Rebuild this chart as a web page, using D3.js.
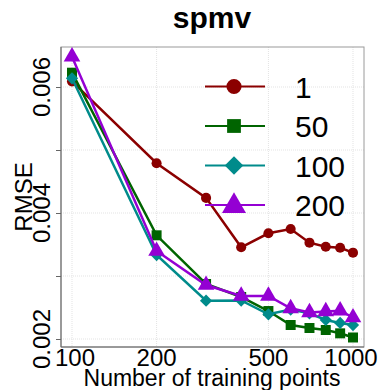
<!DOCTYPE html>
<html>
<head>
<meta charset="utf-8">
<script src="https://cdn.jsdelivr.net/npm/d3@7"></script>
<style>
  body { margin: 0; background: #fff; }
  text { font-family: "Liberation Sans", Arial, sans-serif; }
</style>
</head>
<body>
<div id="chart"></div>
<script>
// training set sizes (x axis, log scale)
const points = [100, 200, 300, 400, 500, 600, 700, 800, 900, 1000];

// RMSE per batch size
const rmse1   = [0.00609, 0.00479, 0.00424, 0.003456, 0.003678, 0.003746, 0.003529, 0.003465, 0.003449, 0.00337];
const rmse50  = [0.006227, 0.003646, 0.002873, 0.002667, 0.002444, 0.002222, 0.002175, 0.002143, 0.00209, 0.002024];
const rmse100 = [0.006138, 0.003333, 0.002608, 0.002611, 0.002392, 0.002468, 0.002408, 0.002302, 0.002254, 0.002222];
const rmse200 = [0.006481, 0.003397, 0.002857, 0.002683, 0.002683, 0.002487, 0.002421, 0.002437, 0.002449, 0.002341];

const seriesNames = ['1', '50', '100', '200'];
const xTicks = [100, 200, 500, 1000];
const yTicks = [0.002, 0.004, 0.006];
const yMinorTicks = [0.003, 0.005];

const series = [
  { name: seriesNames[0], values: rmse1,   color: '#8b0000', shape: 'circle' },
  { name: seriesNames[1], values: rmse50,  color: '#006400', shape: 'square' },
  { name: seriesNames[2], values: rmse100, color: '#008b8b', shape: 'diamond' },
  { name: seriesNames[3], values: rmse200, color: '#9400d3', shape: 'triangle' }
];

const width = 383, height = 390;
const panel = { left: 61, right: 364, top: 47, bottom: 347 };

const svg = d3.select('#chart').append('svg')
  .attr('width', width)
  .attr('height', height);

const x = d3.scaleLog()
  .domain([100, 1000])
  .range([72, 353]);

const y = d3.scaleLinear()
  .domain([0.002, 0.006])
  .range([339, 87]);

// grid
const grid = svg.append('g');
grid.selectAll('.hgrid')
  .data(yTicks.concat(yMinorTicks))
  .enter().append('line')
  .attr('x1', panel.left).attr('x2', panel.right)
  .attr('y1', d => y(d)).attr('y2', d => y(d))
  .attr('stroke', '#e3e3e3')
  .attr('stroke-dasharray', '1,1');
grid.selectAll('.vgrid')
  .data(xTicks)
  .enter().append('line')
  .attr('y1', panel.top).attr('y2', panel.bottom)
  .attr('x1', d => x(d)).attr('x2', d => x(d))
  .attr('stroke', '#e3e3e3')
  .attr('stroke-dasharray', '1,1');

// panel border
svg.append('rect')
  .attr('x', panel.left).attr('y', panel.top)
  .attr('width', panel.right - panel.left)
  .attr('height', panel.bottom - panel.top)
  .attr('fill', 'none')
  .attr('stroke', '#9a9a9a')
  .attr('stroke-width', 1);

// axes
const yAxis = svg.append('g')
  .attr('transform', `translate(${panel.left},0)`)
  .call(d3.axisLeft(y).tickValues(yTicks.concat(yMinorTicks)).tickSize(5).tickFormat(''));
yAxis.select('.domain').attr('d', `M0,${panel.top}V${panel.bottom}`).attr('stroke', '#666');
yAxis.selectAll('.tick line').attr('stroke', '#666');

const xAxis = svg.append('g')
  .attr('transform', `translate(0,${panel.bottom})`)
  .call(d3.axisBottom(x).tickValues(xTicks).tickSize(0).tickFormat(''));
xAxis.select('.domain').attr('d', `M${panel.left},0H${panel.right}`).attr('stroke', '#666');

// y tick labels, rotated
svg.selectAll('.ylab')
  .data(yTicks)
  .enter().append('text')
  .attr('transform', d => `translate(50,${y(d)}) rotate(-90)`)
  .attr('text-anchor', 'middle')
  .attr('font-size', 24)
  .attr('fill', '#000')
  .text(d3.format('.3f'));

// x tick labels
svg.selectAll('.xlab')
  .data(xTicks)
  .enter().append('text')
  .attr('x', d => x(d) + (d === 1000 ? -2 : (d === 100 ? 3 : 0)))
  .attr('y', 366)
  .attr('text-anchor', 'middle')
  .attr('font-size', 24)
  .attr('fill', '#000')
  .text(d => d);

// axis titles
svg.append('text')
  .attr('x', 212).attr('y', 386)
  .attr('text-anchor', 'middle')
  .attr('font-size', 23)
  .text('Number of training points');

svg.append('text')
  .attr('transform', `translate(32,${(panel.top + panel.bottom) / 2}) rotate(-90)`)
  .attr('text-anchor', 'middle')
  .attr('font-size', 24)
  .text('RMSE');

svg.append('text')
  .attr('x', 212).attr('y', 28)
  .attr('text-anchor', 'middle')
  .attr('font-size', 30)
  .attr('font-weight', 'bold')
  .text('spmv');

// symbols; the diamond is a square turned 45 degrees
const symbolFor = {
  circle: d3.symbolCircle,
  square: d3.symbolSquare,
  diamond: d3.symbolSquare,
  triangle: d3.symbolTriangle
};
const rotateFor = { circle: 0, square: 0, diamond: 45, triangle: 0 };
const sizeFor = { circle: 80, square: 100, diamond: 75, triangle: 120 };

const line = d3.line()
  .x((d, i) => x(points[i]))
  .y(d => y(d));

const plot = svg.append('g');
series.forEach(s => {
  plot.append('path')
    .datum(s.values)
    .attr('d', line)
    .attr('fill', 'none')
    .attr('stroke', s.color)
    .attr('stroke-width', 2.5);
  plot.selectAll(null)
    .data(s.values)
    .enter().append('path')
    .attr('transform', (d, i) => `translate(${x(points[i])},${y(d)}) rotate(${rotateFor[s.shape]})`)
    .attr('d', d3.symbol().type(symbolFor[s.shape]).size(sizeFor[s.shape]))
    .attr('fill', s.color);
});

// legend
const legendSize = { circle: 180, square: 190, diamond: 170, triangle: 250 };
const legend = svg.append('g');
series.forEach((s, i) => {
  const ly = 86.5 + i * 39.5;
  legend.append('line')
    .attr('x1', 205).attr('x2', 265)
    .attr('y1', ly).attr('y2', ly)
    .attr('stroke', s.color)
    .attr('stroke-width', 1.8);
  legend.append('path')
    .attr('transform', `translate(234,${ly + (s.shape === 'triangle' ? 1 : 0)}) rotate(${rotateFor[s.shape]})`)
    .attr('d', d3.symbol().type(symbolFor[s.shape]).size(legendSize[s.shape]))
    .attr('fill', s.color);
  legend.append('text')
    .attr('x', 295).attr('y', ly + 11)
    .attr('font-size', 30)
    .text(s.name);
});
</script>
</body>
</html>
